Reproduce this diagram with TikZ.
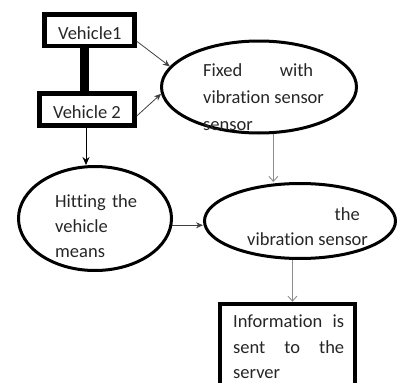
\documentclass[tikz,border=0pt]{standalone}
\usepackage{fontspec}
\setmainfont{Carlito}[Ligatures=NoCommon]
\usetikzlibrary{shapes.geometric,arrows.meta,calc}
\begin{document}
\begin{tikzpicture}[x=1pt,y=-1pt,
  boxthick/.style={draw=black,line width=4.5pt,inner sep=0pt},
  oval/.style={ellipse,draw=black,line width=3pt,inner sep=0pt},
  txt/.style={anchor=base west,inner sep=0pt,text=black!85,font=\fontsize{18.5}{26}\selectfont},
  darrow/.style={draw=black!75,line width=0.8pt,-{Stealth[length=7pt,width=6pt]}},
  barrow/.style={draw=black,line width=0.9pt,-{Stealth[length=8pt,width=7pt]}},
  garrow/.style={draw=black!45,line width=0.9pt,-{Straight Barb[length=5pt,width=9pt]}},
]
\useasboundingbox (0,0) rectangle (397,383);
\clip (0,0) rectangle (397,383);
% shapes
\node[boxthick,minimum width=90pt,minimum height=31.5pt] (v1) at (89.5,30.25) {};
\node[boxthick,minimum width=95pt,minimum height=32pt] (v2) at (87,109.5) {};
\node[oval,minimum width=195pt,minimum height=92pt] (e1) at (259,87) {};
\node[oval,minimum width=153pt,minimum height=104pt] (h) at (95,218.5) {};
\node[oval,minimum width=191pt,minimum height=75pt] (e2) at (300,221) {};
\node[boxthick,minimum width=135pt,minimum height=95pt] (b) at (287.5,351.5) {};
% texts
\node[txt] (t1) at (58,39) {Vehicle1};
\node[txt] (t2) at (53,118) {Vehicle 2};
\node[txt] (t3) at (203,76.5) {\makebox[110pt][s]{Fixed with}};
\node[txt] (t4) at (203,103) {vibration sensor};
\node[txt] (t5) at (203,130) {sensor};
\node[txt] (t6) at (55,207) {\makebox[82pt][s]{Hitting the}};
\node[txt] (t7) at (55,232) {vehicle};
\node[txt] (t8) at (55,257) {means};
\node[txt,anchor=base east] (t9) at (360,220) {the};
\node[txt] (t10) at (247,245) {vibration sensor};
\node[txt] (t11) at (233,327) {\makebox[111pt][s]{Information is}};
\node[txt] (t12) at (233,353) {\makebox[111pt][s]{sent to the}};
\node[txt] (t13) at (233,378) {server};
% connectors
\draw[line width=9pt] ([xshift=-5pt]v1.south) -- ([xshift=-5pt]v1.south |- v2.north);
\draw[darrow] ([yshift=-11pt]v1.east) -- (e1.167);
\draw[darrow] ([yshift=-6.5pt]v2.east) -- (e1.184);
\draw[garrow] (e1.287) -- (e1.287 |- e2.north);
\draw[barrow] ([xshift=-1pt]v2.south) -- ([xshift=-1pt]v2.south |- h.north);
\draw[darrow] (h.-5) -- (h.-5 -| e2.west);
\draw[garrow] (e2.259) -- (e2.259 |- b.north);
\end{tikzpicture}
\end{document}
